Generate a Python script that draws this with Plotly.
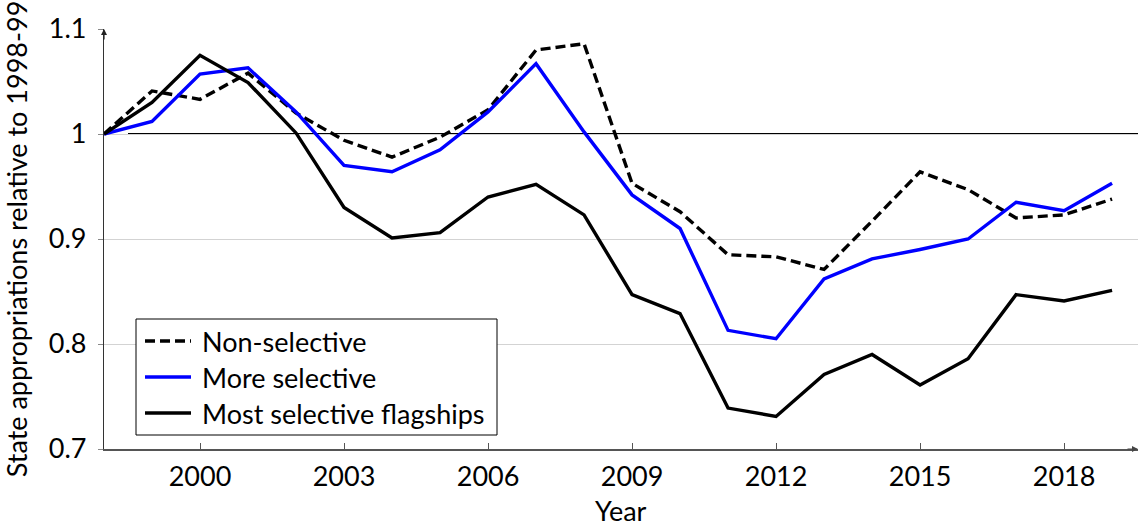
import plotly.graph_objects as go

# State appropriations per student, indexed to 1998-99 = 1
years = list(range(1998, 2020))

non_selective = [1.000, 1.041, 1.033, 1.058, 1.020, 0.994, 0.978, 0.997, 1.023, 1.080,
                 1.086, 0.953, 0.926, 0.885, 0.883, 0.871, 0.917, 0.964, 0.947, 0.920,
                 0.923, 0.938]
more_selective = [1.000, 1.012, 1.057, 1.063, 1.021, 0.970, 0.964, 0.985, 1.021, 1.067,
                  1.002, 0.942, 0.910, 0.813, 0.805, 0.862, 0.881, 0.890, 0.900, 0.935,
                  0.927, 0.953]
most_selective = [1.000, 1.030, 1.075, 1.049, 1.001, 0.930, 0.901, 0.906, 0.940, 0.952,
                  0.923, 0.847, 0.829, 0.739, 0.731, 0.771, 0.790, 0.761, 0.786, 0.847,
                  0.841, 0.851]

series_names = ["Non-selective", "More selective", "Most selective flagships"]
series_values = [non_selective, more_selective, most_selective]
series_colors = ["black", "#0000ff", "black"]
series_dash = ["10px,5px", "solid", "solid"]

x_ticks = [2000, 2003, 2006, 2009, 2012, 2015, 2018]
y_ticks = [0.7, 0.8, 0.9, 1.0, 1.1]
y_tick_labels = ["0.7", "0.8", "0.9", "1", "1.1"]

baseline = 1.0
baseline_start = 1998.5

X_MIN, X_MAX = 1998, 2019.54
Y_MIN, Y_MAX = 0.7, 1.1

FONT = "Lato"
FS = 27
LW = 3.4

W, H = 1138, 526
ML, MR, MT, MB = 104, 0, 29, 77
PW, PH = W - ML - MR, H - MT - MB


def px(p):
    return (p - ML) / PW


def py(p):
    return (H - MB - p) / PH


fig = go.Figure()
for name, vals, col, dash in zip(series_names, series_values, series_colors, series_dash):
    fig.add_trace(go.Scatter(
        x=years, y=vals, mode="lines", name=name,
        line=dict(color=col, width=LW, dash=dash),
        showlegend=False,
    ))

shapes = [
    # reference level at 1
    dict(type="line", xref="x", yref="y", x0=baseline_start, x1=X_MAX,
         y0=baseline, y1=baseline, line=dict(color="black", width=2.2), layer="below"),
    # legend frame
    dict(type="rect", xref="paper", yref="paper", x0=px(136), x1=px(497),
         y0=py(435), y1=py(319), line=dict(color="black", width=1),
         fillcolor="white", layer="above"),
]
annotations = []
row_y = [341, 377, 413]
for name, col, dash, ry in zip(series_names, series_colors, series_dash, row_y):
    shapes.append(dict(type="line", xref="paper", yref="paper", x0=px(145), x1=px(191),
                       y0=py(ry), y1=py(ry),
                       line=dict(color=col, width=LW, dash=dash), layer="above"))
    annotations.append(dict(xref="paper", yref="paper", x=px(200), y=py(ry),
                            text=name, showarrow=False, xanchor="left", yanchor="middle",
                            font=dict(family=FONT, size=FS, color="black")))

# x-axis title
annotations.append(dict(xref="paper", yref="paper", x=0.5, y=py(511), text="Year",
                        showarrow=False, xanchor="center", yanchor="middle",
                        font=dict(family=FONT, size=FS, color="black")))

# axis arrowheads
annotations.append(dict(xref="x", yref="y", x=X_MIN, y=Y_MAX, ax=0, ay=12, text="",
                        showarrow=True, arrowhead=2, arrowsize=1, arrowwidth=1.2,
                        arrowcolor="#222"))
annotations.append(dict(xref="x", yref="y", x=X_MAX, y=Y_MIN, ax=-12, ay=0, text="",
                        showarrow=True, arrowhead=2, arrowsize=1, arrowwidth=1.2,
                        arrowcolor="#444"))

fig.update_layout(
    width=W, height=H,
    margin=dict(l=ML, r=MR, t=MT, b=MB),
    paper_bgcolor="white", plot_bgcolor="white",
    font=dict(family=FONT, size=FS, color="black"),
    shapes=shapes, annotations=annotations,
    xaxis=dict(
        range=[X_MIN, X_MAX], tickvals=x_ticks, ticks="inside", ticklen=6,
        tickcolor="#555", showgrid=False, zeroline=False,
        showline=True, linecolor="#555", linewidth=1.5,
        ticklabelstandoff=3,
        automargin=False,
    ),
    yaxis=dict(
        range=[Y_MIN, Y_MAX], tickvals=y_ticks, ticktext=y_tick_labels,
        ticks="outside", ticklen=5, tickcolor="#888",
        showgrid=True, gridcolor="#d3d3d3", gridwidth=1, zeroline=False,
        showline=True, linecolor="#333", linewidth=1.2,
        ticklabelstandoff=6,
        title=dict(text="State appropriations relative to 1998-99", standoff=14,
                   font=dict(family=FONT, size=FS)),
        automargin=False,
    ),
)

fig.write_html("out.html")
